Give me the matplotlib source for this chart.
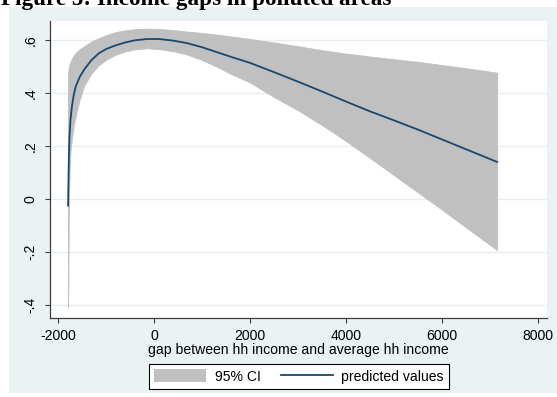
import matplotlib
matplotlib.use("Agg")
import matplotlib.pyplot as plt
from matplotlib.patches import Rectangle, Patch
from matplotlib.lines import Line2D

plt.rcParams['font.family'] = ['Liberation Sans', 'DejaVu Sans']

# fitted curve of outcome on income gap, with 95% band
gap = [-1790, -1775, -1760, -1740, -1710, -1670, -1630, -1550, -1450, -1300,
       -1150, -1000, -800, -600, -400, -150, 100, 400, 700, 1000,
       1300, 1650, 2000, 2500, 3000, 3500, 4000, 4500, 5000, 5500,
       6000, 6500, 7000, 7150]
fit = [-0.025, 0.15, 0.24, 0.30, 0.35, 0.395, 0.425, 0.46, 0.49, 0.525,
       0.550, 0.566, 0.580, 0.591, 0.599, 0.604, 0.604, 0.598, 0.588, 0.573,
       0.555, 0.534, 0.514, 0.479, 0.443, 0.406, 0.368, 0.331, 0.297, 0.262,
       0.225, 0.188, 0.151, 0.140]
upper = [0.478, 0.497, 0.508, 0.519, 0.530, 0.543, 0.552, 0.565, 0.578, 0.595,
         0.607, 0.619, 0.630, 0.637, 0.641, 0.643, 0.642, 0.638, 0.632, 0.627,
         0.621, 0.613, 0.604, 0.591, 0.577, 0.562, 0.549, 0.538, 0.528, 0.518,
         0.506, 0.494, 0.481, 0.477]
lower = [-0.41, -0.05, 0.10, 0.18, 0.23, 0.28, 0.315, 0.375, 0.43, 0.475,
         0.505, 0.525, 0.545, 0.557, 0.565, 0.569, 0.566, 0.558, 0.545, 0.525,
         0.50, 0.468, 0.44, 0.385, 0.335, 0.279, 0.219, 0.155, 0.09, 0.025,
         -0.04, -0.107, -0.173, -0.193]

xticks = [-2000, 0, 2000, 4000, 6000, 8000]
yticks = [0.6, 0.4, 0.2, 0, -0.2, -0.4]
ytick_labels = ['.6', '.4', '.2', '0', '-.2', '-.4']

W, H = 557, 397
fig = plt.figure(figsize=(W / 100, H / 100), dpi=100)
fig.patch.set_facecolor('white')

# stata-style graph region
fig.patches.append(Rectangle((9 / W, 1 - 393 / H), 1 - 9 / W, (393 - 7) / H,
                             transform=fig.transFigure, facecolor='#EAF2F3',
                             edgecolor='none', zorder=-10))

fig.text(1 / W, 1 - 5 / H, 'Figure 5: Income gaps in polluted areas',
         family=['Liberation Serif'], weight='bold', fontsize=16.7,
         ha='left', va='baseline')

ax = fig.add_axes([50 / W, 1 - 318 / H, (547 - 50) / W, (318 - 21) / H])
ax.set_facecolor('white')

ax.fill_between(gap, lower, upper, color='#C0C0C0', linewidth=0.6,
                edgecolor='#C0C0C0', zorder=2)
ax.plot(gap, fit, color='#1A476F', linewidth=1.3, zorder=3)

ax.set_xlim(-2167, 8188)
ax.set_ylim(-0.449, 0.672)

ax.set_xticks(xticks)
ax.set_xticklabels([str(v) for v in xticks])
ax.set_yticks(yticks)
ax.set_yticklabels(ytick_labels, rotation=90, va='center')

ax.grid(axis='y', color='#E6EEF0', linewidth=1.0, zorder=1)
ax.set_axisbelow(True)

for side in ['top', 'right']:
    ax.spines[side].set_visible(False)
for side in ['left', 'bottom']:
    ax.spines[side].set_color('#3C3C3C')
    ax.spines[side].set_linewidth(0.9)

ax.tick_params(axis='both', direction='out', length=3.6, width=0.8,
               color='#3C3C3C', labelsize=10.1, labelcolor='black')
ax.tick_params(axis='x', pad=4)
ax.tick_params(axis='y', pad=5.5)

fig.text(298.5 / W, 1 - 354 / H, 'gap between hh income and average hh income',
         fontsize=10.1, ha='center', va='baseline')

handles = [Patch(facecolor='#C0C0C0', edgecolor='none', label='95% CI'),
           Line2D([], [], color='#1A476F', linewidth=1.3, label='predicted values')]
leg = fig.legend(handles=handles, loc='center', ncol=2,
                 bbox_to_anchor=(299 / W, 1 - 376.5 / H),
                 fontsize=10.1, frameon=True, fancybox=False, framealpha=1,
                 edgecolor='black', borderpad=0.42, handlelength=3.7,
                 handleheight=1.0, handletextpad=0.6, columnspacing=1.43,
                 borderaxespad=0)
leg.get_frame().set_linewidth(0.8)

fig.savefig('out.png', dpi=100, facecolor='white')
